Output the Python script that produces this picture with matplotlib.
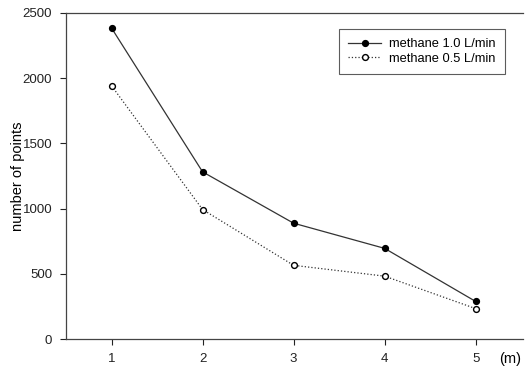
import matplotlib.pyplot as plt

plt.rcParams['font.family'] = ['Liberation Sans', 'DejaVu Sans']

distance = [1, 2, 3, 4, 5]
methane_10 = [2385, 1282, 888, 695, 288]
methane_05 = [1942, 993, 565, 482, 233]

fig = plt.figure(figsize=(5.25, 3.70), dpi=100)
ax = fig.add_axes([66 / 525, 1 - 339 / 370, (523 - 66) / 525, (339 - 13) / 370])

ax.plot(distance, methane_10, '-', color='#333333', lw=0.9,
        marker='o', ms=4.2, mfc='black', mec='black', label='methane 1.0 L/min')
ax.plot(distance, methane_05, ':', color='#333333', lw=0.9,
        marker='o', ms=4.2, mfc='white', mec='black', label='methane 0.5 L/min')

ax.set_xlim(0.5, 5.52)
ax.set_ylim(0, 2500)
ax.set_xticks(distance)
ax.set_yticks([0, 500, 1000, 1500, 2000, 2500])
ax.tick_params(direction='out', length=4, width=0.8, labelsize=9.5, colors='#222222', pad=6)
for s in ax.spines.values():
    s.set_color('#444444')
    s.set_linewidth(0.9)
ax.spines['right'].set_visible(False)

ax.set_ylabel('number of points', fontsize=10.5, va='center')
ax.yaxis.set_label_coords(-0.105, 0.5)
ax.text(510, 370 - 359, '(m)', transform=None, fontsize=10.5, ha='center', va='center')

leg = ax.legend(loc='upper right', bbox_to_anchor=(0.96, 0.951), fontsize=9.3,
                frameon=True, fancybox=False, edgecolor='#333333', borderaxespad=0,
                handlelength=2.6, borderpad=0.7, labelspacing=0.2, handletextpad=0.6)
leg.get_frame().set_linewidth(0.8)

fig.savefig('out.png', dpi=100)
